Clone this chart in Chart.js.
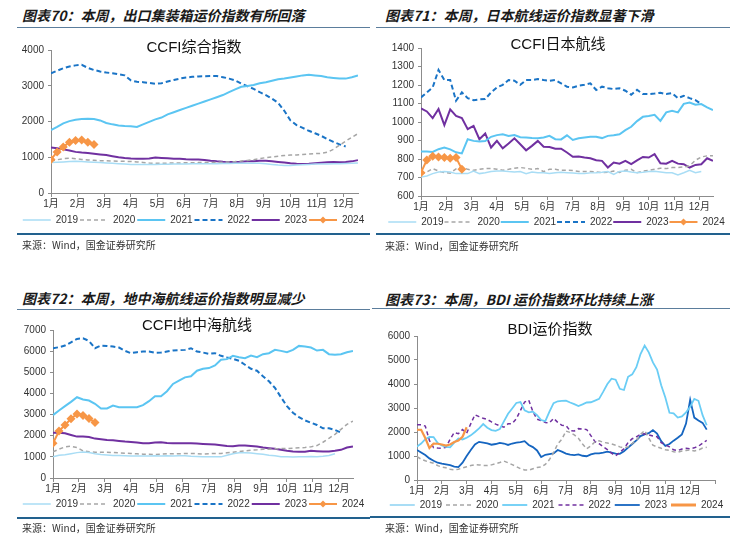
<!DOCTYPE html>
<html>
<head>
<meta charset="utf-8">
<script src="https://cdn.jsdelivr.net/npm/chart.js@4.4.1/dist/chart.umd.min.js"></script>
<style>
  body { margin: 0; background: #fff; }
  #page { position: relative; width: 736px; height: 535px; overflow: hidden; background: #fff; }
  .hdr { position: absolute; font: italic 700 14px 'Noto Sans CJK SC', sans-serif; color: #1a1a1a; line-height: 14px; white-space: nowrap; }
  .rule { position: absolute; height: 0; border-top: 1.5px solid #5b7d9c; }
  .foot { position: absolute; height: 0; border-top: 2px solid #22618e; }
  .src { position: absolute; font: 10px 'Noto Sans CJK SC', sans-serif; color: #333; line-height: 10px; white-space: nowrap; }
  .ttl { position: absolute; font: 15px 'Liberation Sans', 'Noto Sans CJK SC', sans-serif; color: #111; transform: translate(-50%, -50%); white-space: nowrap; }
  .box { position: absolute; }
</style>
</head>
<body>
<div id="page">
  <div class="hdr" style="left:22px;top:8px">图表70：本周，出口集装箱运价指数有所回落</div>
  <div class="rule" style="left:17px;top:27px;width:353px"></div>
  <div class="box" style="left:17px;top:40px;width:353px;height:195px"><canvas id="c1"></canvas></div>
  <div class="ttl" style="left:194px;top:45px">CCFI综合指数</div>
  <div class="foot" style="left:17px;top:233px;width:353px"></div>
  <div class="src" style="left:22px;top:240px">来源：Wind，国金证券研究所</div>

  <div class="hdr" style="left:385px;top:8px">图表71：本周，日本航线运价指数显著下滑</div>
  <div class="rule" style="left:376px;top:27px;width:354px"></div>
  <div class="box" style="left:377px;top:38px;width:359px;height:199px"><canvas id="c2"></canvas></div>
  <div class="ttl" style="left:558px;top:42px">CCFI日本航线</div>
  <div class="foot" style="left:376px;top:233px;width:354px"></div>
  <div class="src" style="left:385px;top:241px">来源：Wind，国金证券研究所</div>

  <div class="hdr" style="left:22px;top:291px">图表72：本周，地中海航线运价指数明显减少</div>
  <div class="rule" style="left:17px;top:309px;width:353px"></div>
  <div class="box" style="left:17px;top:320px;width:353px;height:199px"><canvas id="c3"></canvas></div>
  <div class="ttl" style="left:197px;top:323px">CCFI地中海航线</div>
  <div class="foot" style="left:17px;top:517px;width:353px"></div>
  <div class="src" style="left:22px;top:523px">来源：Wind，国金证券研究所</div>

  <div class="hdr" style="left:385px;top:292px">图表73：本周，BDI 运价指数环比持续上涨</div>
  <div class="rule" style="left:372px;top:308px;width:358px"></div>
  <div class="box" style="left:377px;top:326px;width:359px;height:194px"><canvas id="c4"></canvas></div>
  <div class="ttl" style="left:550px;top:327px">BDI运价指数</div>
  <div class="foot" style="left:370px;top:516px;width:360px"></div>
  <div class="src" style="left:385px;top:523px">来源：Wind，国金证券研究所</div>
</div>

<script>
const monthLabels = ["1月", "2月", "3月", "4月", "5月", "6月", "7月", "8月", "9月", "10月", "11月", "12月"];
const yearNames = ["2019", "2020", "2021", "2022", "2023", "2024"];

// CCFI综合指数, weekly
const ccfi2019 = [850, 860, 870, 880, 885, 880, 870, 860, 850, 840, 830, 820, 810, 800, 800, 800, 795, 800, 805, 805, 810, 810, 810, 815, 815, 815, 820, 820, 825, 825, 830, 830, 830, 830, 830, 820, 800, 780, 770, 770, 780, 790, 800, 810, 810, 810, 815, 820, 825, 830, 840];
const ccfi2020 = [900, 930, 960, 975, 960, 940, 925, 915, 905, 900, 895, 890, 885, 880, 870, 855, 840, 830, 830, 835, 840, 840, 845, 845, 850, 850, 855, 860, 860, 870, 880, 895, 910, 930, 960, 990, 1010, 1030, 1050, 1060, 1065, 1075, 1090, 1100, 1110, 1140, 1220, 1340, 1450, 1560, 1660];
const ccfi2021 = [1760, 1850, 1950, 2010, 2050, 2070, 2075, 2070, 2030, 1960, 1920, 1890, 1875, 1865, 1845, 1920, 1990, 2060, 2110, 2200, 2260, 2320, 2380, 2440, 2500, 2560, 2620, 2680, 2740, 2820, 2900, 2970, 2990, 3020, 3070, 3100, 3140, 3180, 3200, 3230, 3260, 3290, 3310, 3290, 3270, 3240, 3220, 3200, 3200, 3240, 3290];
const ccfi2022 = [3345, 3420, 3490, 3540, 3570, 3585, 3500, 3440, 3400, 3370, 3350, 3320, 3290, 3150, 3110, 3100, 3080, 3055, 3070, 3120, 3160, 3200, 3230, 3250, 3262, 3265, 3270, 3270, 3240, 3200, 3150, 3060, 2990, 2910, 2820, 2740, 2640, 2520, 2300, 2030, 1900, 1820, 1740, 1670, 1600, 1510, 1430, 1360, 1300];
const ccfi2023 = [1270, 1250, 1220, 1190, 1150, 1130, 1120, 1100, 1080, 1060, 1030, 1000, 980, 965, 960, 955, 965, 990, 980, 970, 960, 955, 945, 940, 935, 920, 900, 885, 875, 870, 870, 875, 885, 890, 900, 900, 890, 870, 850, 830, 815, 810, 815, 830, 845, 860, 870, 860, 865, 885, 920];
const ccfi2024 = [940, 1150, 1290, 1420, 1470, 1480, 1420, 1360];

// CCFI日本航线, weekly
const jp2019 = [703, 708, 721, 730, 732, 730, 721, 721, 721, 735, 721, 726, 732, 735, 735, 732, 730, 732, 721, 730, 726, 726, 721, 726, 728, 726, 724, 721, 722, 725, 726, 728, 732, 717, 733, 735, 730, 726, 728, 732, 734, 730, 726, 726, 714, 726, 739, 726, 732];
const jp2020 = [718, 730, 748, 735, 727, 723, 747, 757, 744, 739, 744, 748, 748, 745, 739, 744, 750, 754, 750, 744, 748, 732, 744, 744, 739, 739, 738, 732, 732, 732, 730, 726, 728, 735, 727, 739, 744, 726, 735, 738, 744, 750, 748, 754, 754, 757, 763, 793, 811, 817, 817];
const jp2021 = [840, 840, 838, 853, 862, 852, 836, 830, 907, 898, 894, 897, 920, 929, 934, 925, 930, 918, 916, 913, 912, 916, 925, 907, 906, 928, 903, 912, 916, 920, 920, 913, 925, 929, 934, 956, 974, 1005, 1028, 1033, 1039, 1006, 1052, 1060, 1052, 1098, 1105, 1093, 1097, 1079, 1064];
const jp2022 = [1133, 1160, 1187, 1281, 1227, 1227, 1115, 1160, 1129, 1118, 1122, 1124, 1160, 1187, 1201, 1227, 1223, 1201, 1227, 1227, 1232, 1227, 1223, 1227, 1209, 1191, 1187, 1196, 1201, 1209, 1173, 1191, 1183, 1178, 1182, 1169, 1147, 1174, 1151, 1151, 1154, 1158, 1151, 1156, 1129, 1142, 1129, 1118, 1097];
const jp2023 = [1073, 1057, 1021, 1070, 983, 1068, 1033, 1021, 961, 979, 907, 938, 862, 898, 858, 884, 912, 880, 847, 871, 898, 866, 865, 856, 856, 835, 812, 813, 808, 804, 793, 790, 754, 781, 775, 790, 772, 793, 811, 808, 826, 777, 775, 790, 775, 772, 754, 768, 772, 804, 790];
const jp2024 = [726, 795, 815, 811, 808, 804, 808, 745];

// CCFI地中海航线, weekly
const med2019 = [1000, 1080, 1100, 1150, 1200, 1230, 1210, 1150, 1110, 1090, 1070, 1060, 1050, 1040, 1040, 1040, 1045, 1050, 1040, 1050, 1040, 1050, 1050, 1030, 1020, 1010, 1000, 1010, 1000, 1080, 1150, 1190, 1200, 1180, 1150, 1120, 1080, 1050, 1010, 1000, 990, 1000, 1010, 1020, 1010, 1030, 1060, 1150];
const med2020 = [1237, 1362, 1472, 1503, 1441, 1284, 1237, 1221, 1221, 1221, 1206, 1190, 1175, 1159, 1143, 1127, 1127, 1112, 1127, 1143, 1143, 1150, 1159, 1159, 1150, 1127, 1150, 1159, 1159, 1190, 1221, 1253, 1284, 1315, 1331, 1362, 1362, 1378, 1394, 1394, 1409, 1425, 1441, 1472, 1535, 1691, 1879, 2067, 2302, 2537, 2694];
const med2021 = [2975, 3195, 3398, 3602, 3821, 3711, 3664, 3508, 3289, 3289, 3430, 3351, 3351, 3351, 3351, 3445, 3633, 3868, 3868, 4103, 4447, 4604, 4761, 4808, 5074, 5168, 5199, 5324, 5591, 5622, 5779, 5716, 5669, 5794, 5716, 5857, 5904, 6060, 6013, 5951, 6060, 6248, 6217, 6170, 6029, 6060, 5857, 5826, 5857, 5951, 6013];
const med2022 = [6139, 6186, 6264, 6420, 6577, 6608, 6483, 6139, 6264, 6248, 6217, 6170, 6013, 5904, 5951, 5982, 5982, 5920, 5935, 5982, 6029, 6044, 6060, 6139, 5982, 5935, 5873, 5904, 5779, 5700, 5638, 5544, 5356, 5168, 5074, 4808, 4573, 4260, 3821, 3398, 3085, 2881, 2725, 2615, 2506, 2349, 2349, 2271, 2150];
const med2023 = [2145, 2145, 2114, 2036, 1958, 1958, 1942, 1864, 1832, 1801, 1785, 1754, 1723, 1707, 1676, 1644, 1644, 1676, 1691, 1660, 1644, 1644, 1644, 1644, 1629, 1613, 1597, 1582, 1550, 1519, 1503, 1535, 1535, 1519, 1488, 1441, 1409, 1378, 1331, 1284, 1253, 1237, 1237, 1284, 1268, 1253, 1253, 1284, 1331, 1441, 1488];
const med2024 = [1640, 2220, 2510, 2800, 3030, 2960, 2820, 2620];

// BDI, six readings per month
const bdi2019 = [];
const bdi2020 = [970, 870, 800, 740, 700, 600, 540, 510, 450, 420, 450, 500, 550, 600, 640, 630, 605, 600, 630, 680, 730, 790, 720, 640, 560, 470, 420, 410, 470, 520, 540, 650, 850, 1150, 1500, 1700, 2040, 1980, 1880, 1740, 1500, 1300, 1420, 1590, 1630, 1570, 1540, 1500, 1450, 1380, 1340, 1380, 1520, 1650, 1900, 2060, 1750, 1450, 1380, 1320, 1260, 1230, 1180, 1160, 1210, 1230, 1250, 1210, 1250, 1330, 1360];
const bdi2021 = [1390, 1520, 1700, 1800, 1790, 1540, 1440, 1380, 1360, 1560, 1730, 1690, 1760, 1860, 2000, 2150, 2330, 2180, 2080, 2050, 2120, 2440, 2760, 2980, 3210, 3250, 2900, 2820, 2850, 2700, 2500, 2450, 2850, 3200, 3280, 3300, 3310, 3230, 3160, 3080, 3150, 3230, 3240, 3310, 3380, 3680, 4000, 4220, 4180, 3800, 3750, 4300, 4400, 4700, 5250, 5600, 5320, 4900, 4600, 3950, 3440, 2800, 2780, 2600, 2650, 2820, 3050, 3380, 3300, 2700, 2280];
const bdi2022 = [2300, 2300, 2250, 1650, 1350, 1330, 1320, 1360, 1700, 1980, 1930, 2100, 1950, 2350, 2720, 2640, 2570, 2520, 2420, 2330, 2260, 2200, 2340, 2350, 2550, 2900, 3250, 3330, 2850, 2530, 2480, 2400, 2380, 2570, 2400, 2280, 2270, 2050, 2040, 2140, 2120, 2100, 1850, 1600, 1510, 1380, 1270, 1120, 1010, 1150, 1300, 1560, 1720, 1800, 1900, 1930, 1880, 1830, 1800, 1560, 1460, 1380, 1260, 1230, 1290, 1320, 1300, 1340, 1410, 1530, 1650];
const bdi2023 = [1250, 1150, 1040, 900, 800, 720, 680, 650, 620, 560, 540, 720, 1000, 1250, 1480, 1590, 1560, 1530, 1470, 1500, 1550, 1520, 1460, 1520, 1560, 1580, 1620, 1460, 1370, 1230, 960, 1050, 1080, 1110, 1250, 1180, 1100, 1060, 1040, 1070, 1010, 990, 1070, 1110, 1110, 1140, 1180, 1140, 1100, 1090, 1200, 1350, 1500, 1650, 1830, 1900, 1950, 2080, 1930, 1620, 1420, 1500, 1640, 1760, 1900, 2350, 3340, 2600, 2480, 2380, 2100];
const bdi2024 = [2094, 2090, 1750, 1330, 1520, 1510, 1480, 1430, 1480, 1580, 1640, 1800, 2200];

const FONT = "'Liberation Sans', Arial, 'Noto Sans CJK SC', sans-serif";
Chart.defaults.font.family = FONT;
Chart.defaults.color = "#333";

const weekly = values => values.map((v, i) => ({ x: i * 12 / 52, y: v }));
const sixPerMonth = values => values.map((v, i) => ({ x: i / 6, y: v }));

function line(label, points, color, width, dash, extra) {
    return Object.assign({
        label: label,
        data: points,
        borderColor: color,
        backgroundColor: color,
        borderWidth: width,
        borderDash: dash || [],
        pointRadius: 0,
        fill: false,
        tension: 0,
        order: 1
    }, extra || {});
}

function withMarker(label, points) {
    return line(label, points, "#F79646", 2, [], {
        pointRadius: 4.5,
        pointStyle: "rectRot",
        pointBorderWidth: 0,
        order: 0
    });
}

// draws the little diamond on legend entries of series with markers
const legendMarker = {
    id: "legendMarker",
    afterDraw(chart) {
        const legend = chart.legend;
        if (!legend || !legend.legendHitBoxes) return;
        const ctx = chart.ctx;
        legend.legendItems.forEach((item, i) => {
            const ds = chart.data.datasets[item.datasetIndex];
            if (!ds.pointRadius) return;
            const box = legend.legendHitBoxes[i];
            const cx = box.left + 14, cy = box.top + 5, r = 3.5;
            ctx.save();
            ctx.fillStyle = ds.borderColor;
            ctx.beginPath();
            ctx.moveTo(cx, cy - r);
            ctx.lineTo(cx + r, cy);
            ctx.lineTo(cx, cy + r);
            ctx.lineTo(cx - r, cy);
            ctx.closePath();
            ctx.fill();
            ctx.restore();
        });
    }
};

function makeChart(id, datasets, p) {
    const axisColor = "#8c8c8c";
    return new Chart(document.getElementById(id), {
        type: "line",
        data: { datasets: datasets },
        options: {
            responsive: true,
            maintainAspectRatio: false,
            animation: false,
            devicePixelRatio: 1,
            layout: { padding: { top: p.padTop, left: 0, right: 0, bottom: 0 } },
            plugins: {
                title: { display: false },
                tooltip: { enabled: false },
                legend: {
                    position: "bottom",
                    labels: {
                        usePointStyle: true,
                        pointStyleWidth: p.legendLine,
                        boxHeight: 10,
                        padding: p.legendPad,
                        font: { size: 10 },
                        color: "#333",
                        sort: (a, b) => a.datasetIndex - b.datasetIndex,
                        generateLabels(chart) {
                            return Chart.defaults.plugins.legend.labels.generateLabels(chart).map(it => {
                                const ds = chart.data.datasets[it.datasetIndex];
                                it.pointStyle = "line";
                                it.strokeStyle = ds.borderColor;
                                it.lineWidth = ds.legendWidth || ds.borderWidth;
                                it.lineDash = ds.borderDash;
                                return it;
                            });
                        }
                    }
                }
            },
            scales: {
                x: {
                    type: "linear",
                    min: 0,
                    max: p.xMax,
                    afterBuildTicks: s => { s.ticks = p.xTicks.map(v => ({ value: v })); },
                    afterFit: s => { s.height = p.xHeight; },
                    ticks: {
                        autoSkip: false,
                        maxRotation: 0,
                        padding: 1,
                        font: { size: 10 },
                        color: "#333",
                        callback: v => monthLabels[v] || ""
                    },
                    grid: { display: true, drawOnChartArea: false, drawTicks: true, tickLength: 4, color: axisColor },
                    border: { display: true, color: axisColor, width: 1 }
                },
                y: {
                    min: p.yMin,
                    max: p.yMax,
                    afterFit: s => { s.width = p.yWidth; },
                    ticks: { stepSize: p.yStep, padding: 4, font: { size: 10 }, color: "#333", callback: v => String(v) },
                    grid: { display: true, drawOnChartArea: false, drawTicks: true, tickLength: 3, color: axisColor },
                    border: { display: true, color: axisColor, width: 1 }
                },
                gap: {
                    axis: "y",
                    position: "right",
                    display: true,
                    afterFit: s => { s.width = p.padRight; },
                    ticks: { display: false },
                    grid: { display: false },
                    border: { display: false }
                }
            }
        },
        plugins: [legendMarker]
    });
}

const weekTicks = [0, 1, 2, 3, 4, 5, 6, 7, 8, 9, 10, 11];

makeChart("c1", [
    line(yearNames[0], weekly(ccfi2019), "#A9DDF5", 1.5),
    line(yearNames[1], weekly(ccfi2020), "#A6A6A6", 1.5, [4, 3]),
    line(yearNames[2], weekly(ccfi2021), "#5BC5F2", 2),
    line(yearNames[3], weekly(ccfi2022), "#1A74C6", 2, [5, 3]),
    line(yearNames[4], weekly(ccfi2023), "#7030A0", 2),
    withMarker(yearNames[5], weekly(ccfi2024))
], { padTop: 9, padRight: 12, yWidth: 34, xHeight: 20, xMax: 11.54, xTicks: weekTicks,
     yMin: 0, yMax: 4000, yStep: 1000, legendLine: 28, legendPad: 2 });

makeChart("c2", [
    line(yearNames[0], weekly(jp2019), "#A9DDF5", 1.5),
    line(yearNames[1], weekly(jp2020), "#A6A6A6", 1.5, [4, 3]),
    line(yearNames[2], weekly(jp2021), "#5BC5F2", 2),
    line(yearNames[3], weekly(jp2022), "#1A74C6", 2, [5, 3]),
    line(yearNames[4], weekly(jp2023), "#7030A0", 2),
    withMarker(yearNames[5], weekly(jp2024))
], { padTop: 9, padRight: 23, yWidth: 44, xHeight: 20, xMax: 11.54, xTicks: weekTicks,
     yMin: 600, yMax: 1400, yStep: 100, legendLine: 28, legendPad: 1 });

makeChart("c3", [
    line(yearNames[0], weekly(med2019), "#A9DDF5", 1.5),
    line(yearNames[1], weekly(med2020), "#A6A6A6", 1.5, [4, 3]),
    line(yearNames[2], weekly(med2021), "#5BC5F2", 2),
    line(yearNames[3], weekly(med2022), "#1A74C6", 2, [5, 3]),
    line(yearNames[4], weekly(med2023), "#7030A0", 2),
    withMarker(yearNames[5], weekly(med2024))
], { padTop: 9, padRight: 17, yWidth: 36, xHeight: 19, xMax: 11.54, xTicks: weekTicks,
     yMin: 0, yMax: 7000, yStep: 1000, legendLine: 28, legendPad: 2 });

makeChart("c4", [
    line(yearNames[0], sixPerMonth(bdi2019), "#A9DDF5", 2),
    line(yearNames[1], sixPerMonth(bdi2020), "#A6A6A6", 1.5, [4, 3]),
    line(yearNames[2], sixPerMonth(bdi2021), "#6ACDF5", 1.8),
    line(yearNames[3], sixPerMonth(bdi2022), "#7030A0", 1.5, [4, 3]),
    line(yearNames[4], sixPerMonth(bdi2023), "#1565C0", 1.8),
    line(yearNames[5], sixPerMonth(bdi2024), "#F79646", 2.2, [], { order: 0, legendWidth: 3 })
], { padTop: 10, padRight: 21, yWidth: 40, xHeight: 16, xMax: 12, xTicks: [0, 1, 2, 3, 4, 5, 6, 7, 8, 9, 10, 11, 12],
     yMin: 0, yMax: 6000, yStep: 1000, legendLine: 25, legendPad: 4 });
</script>
</body>
</html>
